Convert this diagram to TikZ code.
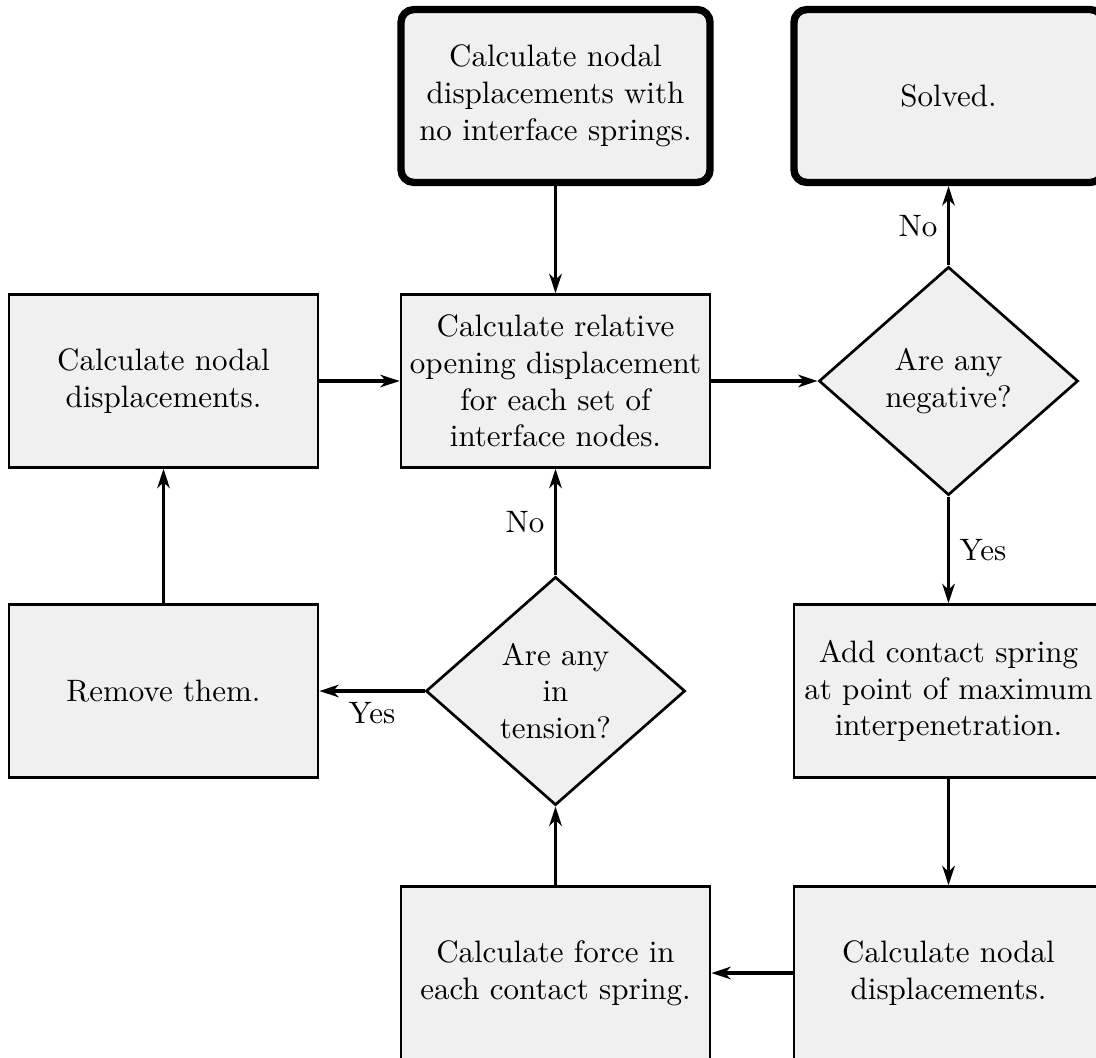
\documentclass[tikz,border=0pt]{standalone}
\usetikzlibrary{arrows.meta,shapes.geometric}
\begin{document}
\begin{tikzpicture}[x=0.3534pt,y=-0.3534pt,
  every node/.style={font=\fontsize{10.95}{13}\selectfont},
  procbox/.style={draw, line width=0.95pt, fill=black!6, minimum width=109.2pt, minimum height=61.1pt, align=center, inner sep=2pt},
  termbox/.style={procbox, line width=2.6pt, rounded corners=4.5pt},
  decis/.style={draw, diamond, line width=0.95pt, fill=black!6, minimum width=91.6pt, minimum height=80.7pt, inner sep=0pt, aspect=1.13, align=center},
  arr/.style={line width=1.2pt, -{Stealth[length=6.8pt,width=4.4pt,inset=2pt]}}
]
\clip (0,0) rectangle (1096,1057);
\node[termbox] (start)  at (555.5,96)  {Calculate nodal\\displacements with\\no interface springs.};
\node[termbox] (solved) at (948.5,96)  {Solved.};
\node[procbox] (nodal1) at (163.5,381) {Calculate nodal\\displacements.};
\node[procbox] (relop)  at (555.5,381) {Calculate relative\\opening displacement\\for each set of\\interface nodes.};
\node[decis]   (neg)    at (948.5,381) {Are any\\negative?};
\node[procbox] (remove) at (163.5,691) {Remove them.};
\node[decis]   (tens)   at (555.5,691) {Are any\\in\\tension?};
\node[procbox] (addsp)  at (948.5,691) {Add contact spring\\at point of maximum\\interpenetration.};
\node[procbox] (force)  at (555.5,973) {Calculate force in\\each contact spring.};
\node[procbox] (nodal2) at (948.5,973) {Calculate nodal\\displacements.};

\draw[arr] (start) -- (relop);
\draw[arr] (nodal1) -- (relop);
\draw[arr] (relop) -- (neg);
\draw[arr] (neg) -- node[left]{No} (solved);
\draw[arr] (neg) -- node[right]{Yes} (addsp);
\draw[arr] (addsp) -- (nodal2);
\draw[arr] (nodal2) -- (force);
\draw[arr] (force) -- (tens);
\draw[arr] (tens) -- node[below]{Yes} (remove);
\draw[arr] (tens) -- node[left]{No} (relop);
\draw[arr] (remove) -- (nodal1);
\end{tikzpicture}
\end{document}
